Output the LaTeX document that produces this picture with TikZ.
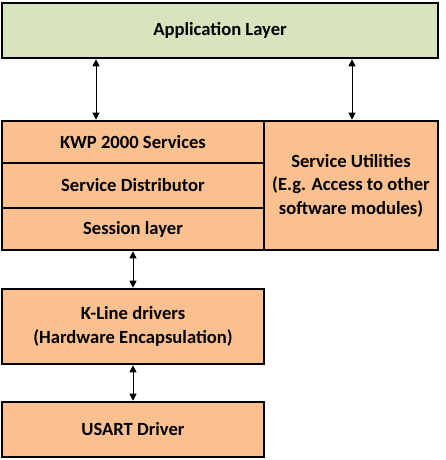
\documentclass[tikz,border=0pt]{standalone}
\usepackage{fontspec}
\setmainfont{Carlito}
\usetikzlibrary{arrows.meta}
\definecolor{appgreen}{HTML}{D7E4BD}
\definecolor{boxorange}{HTML}{FAC090}
\begin{document}
\begin{tikzpicture}[x=1pt,y=-1pt,
  layerbox/.style={draw=black, line width=2.6pt, inner sep=0pt, align=center,
    font=\fontsize{18.6}{23.5}\selectfont\bfseries},
  orangebox/.style={layerbox, fill=boxorange},
  greenbox/.style={layerbox, fill=appgreen},
  arr/.style={line width=0.8pt, {Triangle[length=7pt,width=7pt]}-{Triangle[length=7pt,width=7pt]}}]
\useasboundingbox (0,0) rectangle (446,460);
\node[greenbox, minimum width=436pt, minimum height=55pt] (app) at (220,30.5) {Application Layer};
\node[orangebox, minimum width=174pt, minimum height=129pt] (util) at (351,185.5) {Service Utilities\\(E.g. Access to other\\software modules)};
\node[orangebox, minimum width=262pt, minimum height=42pt] (kwp) at (133,142) {KWP 2000 Services};
\node[orangebox, minimum width=262pt, minimum height=45pt] (dist) at (133,185.5) {Service Distributor};
\node[orangebox, minimum width=262pt, minimum height=42pt] (sess) at (133,229) {Session layer};
\node[orangebox, minimum width=262pt, minimum height=75pt] (kline) at (133,326.5) {K-Line drivers\\(Hardware Encapsulation)};
\node[orangebox, minimum width=262pt, minimum height=55pt] (usart) at (133,429.5) {USART Driver};
\coordinate (a1) at (96,0);
\coordinate (a2) at (352,0);
\draw[arr] (a1 |- app.south) -- (a1 |- kwp.north);
\draw[arr] (a2 |- app.south) -- (a2 |- util.north);
\draw[arr] (sess.south) -- (kline.north);
\draw[arr] (kline.south) -- (usart.north);
\end{tikzpicture}
\end{document}
